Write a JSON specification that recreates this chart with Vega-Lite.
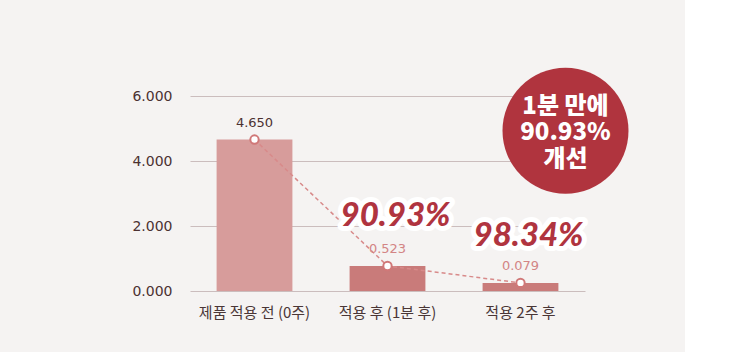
{
  "$schema": "https://vega.github.io/schema/vega-lite/v6.json",
  "autosize": "none",
  "padding": {"left": 190, "top": 96, "right": 165, "bottom": 61},
  "width": 395,
  "height": 195,
  "background": "#f5f3f2",
  "config": {"view": {"stroke": null}},
  "datasets": {
    "main": [
      {"cat": "제품 적용 전 (0주)", "v": 4.66, "label": "4.650", "phase": "before"},
      {"cat": "적용 후 (1분 후)", "v": 0.77, "label": "0.523", "phase": "after"},
      {"cat": "적용 2주 후", "v": 0.25, "label": "0.079", "phase": "after"}
    ],
    "pct": [
      {"cat": "적용 후 (1분 후)", "v": 2.3, "text": "90.93%"},
      {"cat": "적용 2주 후", "v": 1.68, "text": "98.34%"}
    ],
    "badge": [
      {"cat": "적용 2주 후", "v": 4.93, "text": "1분 만에\n90.93%\n개선"}
    ]
  },
  "encoding": {
    "x": {
      "field": "cat", "type": "nominal", "sort": null,
      "scale": {"domain": ["제품 적용 전 (0주)", "적용 후 (1분 후)", "적용 2주 후"], "paddingInner": 0.43, "paddingOuter": 0.2},
      "axis": {"title": null, "labelAngle": 0, "domain": false, "ticks": false, "labelPadding": 14, "labelFont": "Noto Sans CJK KR", "labelFontSize": 15, "labelColor": "#4a3636"}
    },
    "y": {
      "field": "v", "type": "quantitative",
      "scale": {"domain": [0, 6], "nice": false},
      "axis": {"title": null, "values": [0, 2, 4, 6], "format": ".3f", "domain": false, "ticks": false, "labelPadding": 18, "gridColor": "#cbbdbd", "gridWidth": 1, "labelFont": "DejaVu Sans", "labelFontSize": 14, "labelFontWeight": "normal", "labelColor": "#4b3131"}
    }
  },
  "layer": [
    {
      "data": {"values": [{"side": "left"}, {"side": "right"}]},
      "mark": {"type": "rect", "color": "white"},
      "encoding": {
        "x": {"condition": {"test": "datum.side === 'left'", "value": -190}, "value": 495},
        "x2": {"condition": {"test": "datum.side === 'left'", "value": -124}, "value": 560},
        "y": {"value": -96}, "y2": {"value": 256}
      }
    },
    {
      "data": {"name": "main"},
      "mark": {"type": "bar"},
      "encoding": {
        "color": {"condition": {"test": "datum.phase === 'before'", "value": "#d79c9b"}, "value": "#c97b7a"}
      }
    },
    {
      "data": {"name": "main"},
      "mark": {"type": "line", "color": "#d88a8a", "strokeDash": [4, 3], "strokeWidth": 1.5}
    },
    {
      "data": {"name": "pct"},
      "mark": {"type": "text", "font": "Lato", "fontSize": 33, "fontWeight": 900, "fontStyle": "italic", "dx": 8, "stroke": "white", "strokeWidth": 10, "strokeJoin": "round", "fill": "white"},
      "encoding": {"text": {"field": "text"}}
    },
    {
      "data": {"name": "pct"},
      "mark": {"type": "text", "font": "Lato", "fontSize": 33, "fontWeight": 900, "fontStyle": "italic", "dx": 8, "fill": "#b0343f"},
      "encoding": {"text": {"field": "text"}}
    },
    {
      "data": {"name": "main"},
      "mark": {"type": "point", "filled": true, "fill": "white", "stroke": "#d07878", "strokeWidth": 2, "size": 70, "opacity": 1}
    },
    {
      "data": {"name": "main"},
      "mark": {"type": "text", "font": "DejaVu Sans", "fontSize": 13, "dy": -17},
      "encoding": {
        "text": {"field": "label"},
        "color": {"condition": {"test": "datum.phase === 'before'", "value": "#4b3131"}, "value": "#d38585"}
      }
    },
    {
      "data": {"name": "badge"},
      "mark": {"type": "point", "shape": "circle", "filled": true, "fill": "#b0343e", "size": 15876, "xOffset": 45, "opacity": 1}
    },
    {
      "data": {"name": "badge"},
      "mark": {"type": "text", "font": "Noto Sans CJK KR", "fontSize": 24, "fontWeight": 900, "fill": "white", "lineBreak": "\n", "lineHeight": 26.5, "dx": 45, "dy": -24},
      "encoding": {"text": {"field": "text"}}
    }
  ]
}
